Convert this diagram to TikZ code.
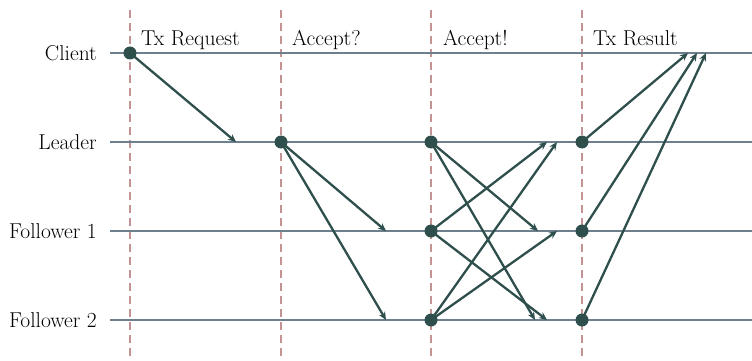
\documentclass[tikz,border=0pt]{standalone}
\usetikzlibrary{arrows.meta}
\definecolor{lane}{HTML}{6E7F8E}
\definecolor{phase}{HTML}{C49494}
\definecolor{msg}{HTML}{2E4F4C}
\begin{document}
\begin{tikzpicture}[x=1pt,y=-1pt,
  lanestyle/.style={draw=lane,line width=2.6pt},
  phasestyle/.style={draw=phase,line width=2.6pt,dash pattern=on 8pt off 5pt},
  msgstyle/.style={draw=msg,line width=2.3pt,-{Stealth[length=8pt,width=7pt]}},
  dot/.style={circle,fill=msg,inner sep=0pt,minimum size=13pt},
  rowlabel/.style={anchor=east,inner sep=0pt,font=\fontsize{21.5}{24}\selectfont},
  phaselabel/.style={anchor=base west,inner sep=0pt,font=\fontsize{21.5}{24}\selectfont}]
\useasboundingbox (0,0) rectangle (752,361);
% vertical phase markers
\foreach \n/\x in {p1/130,p2/281,p3/431,p4/582}{
  \coordinate (\n top) at (\x,10);
  \coordinate (\n bot) at (\x,361);
  \draw[phasestyle] (\n top) -- (\n bot);
}
% lanes
\foreach \n/\y/\t in {c/53/Client,l/142/Leader,fa/231/Follower 1,fb/320/Follower 2}{
  \node[rowlabel] (\n lab) at (97,\y) {\t};
  \coordinate (\n start) at (110,\y);
  \coordinate (\n end) at (752,\y);
  \draw[lanestyle] (\n start) -- (\n end);
}
% phase labels
\node[phaselabel] (t1) at (141,46) {Tx Request};
\node[phaselabel] (t2) at (292,46) {Accept?};
\node[phaselabel] (t3) at (443,46) {Accept!};
\node[phaselabel] (t4) at (593,46) {Tx Result};
% message targets
\coordinate (r1) at (236,142);
\coordinate (a1) at (386,231);
\coordinate (a2) at (386,320);
\coordinate (b1) at (538,231);
\coordinate (b2) at (535,320);
\coordinate (b3) at (547,142);
\coordinate (b4) at (547,320);
\coordinate (b5) at (557,142);
\coordinate (b6) at (557,231);
\coordinate (d1) at (688,53);
\coordinate (d2) at (697,53);
\coordinate (d3) at (706,53);
% events
\node[dot] (c0) at (130,53) {};
\node[dot] (l1) at (281,142) {};
\node[dot] (l2) at (431,142) {};
\node[dot] (f12) at (431,231) {};
\node[dot] (f22) at (431,320) {};
\node[dot] (l3) at (582,142) {};
\node[dot] (f13) at (582,231) {};
\node[dot] (f23) at (582,320) {};
% messages
\draw[msgstyle] (c0.center) -- (r1);
\draw[msgstyle] (l1.center) -- (a1);
\draw[msgstyle] (l1.center) -- (a2);
\draw[msgstyle] (l2.center) -- (b1);
\draw[msgstyle] (l2.center) -- (b2);
\draw[msgstyle] (f12.center) -- (b3);
\draw[msgstyle] (f12.center) -- (b4);
\draw[msgstyle] (f22.center) -- (b5);
\draw[msgstyle] (f22.center) -- (b6);
\draw[msgstyle] (l3.center) -- (d1);
\draw[msgstyle] (f13.center) -- (d2);
\draw[msgstyle] (f23.center) -- (d3);
\end{tikzpicture}
\end{document}
